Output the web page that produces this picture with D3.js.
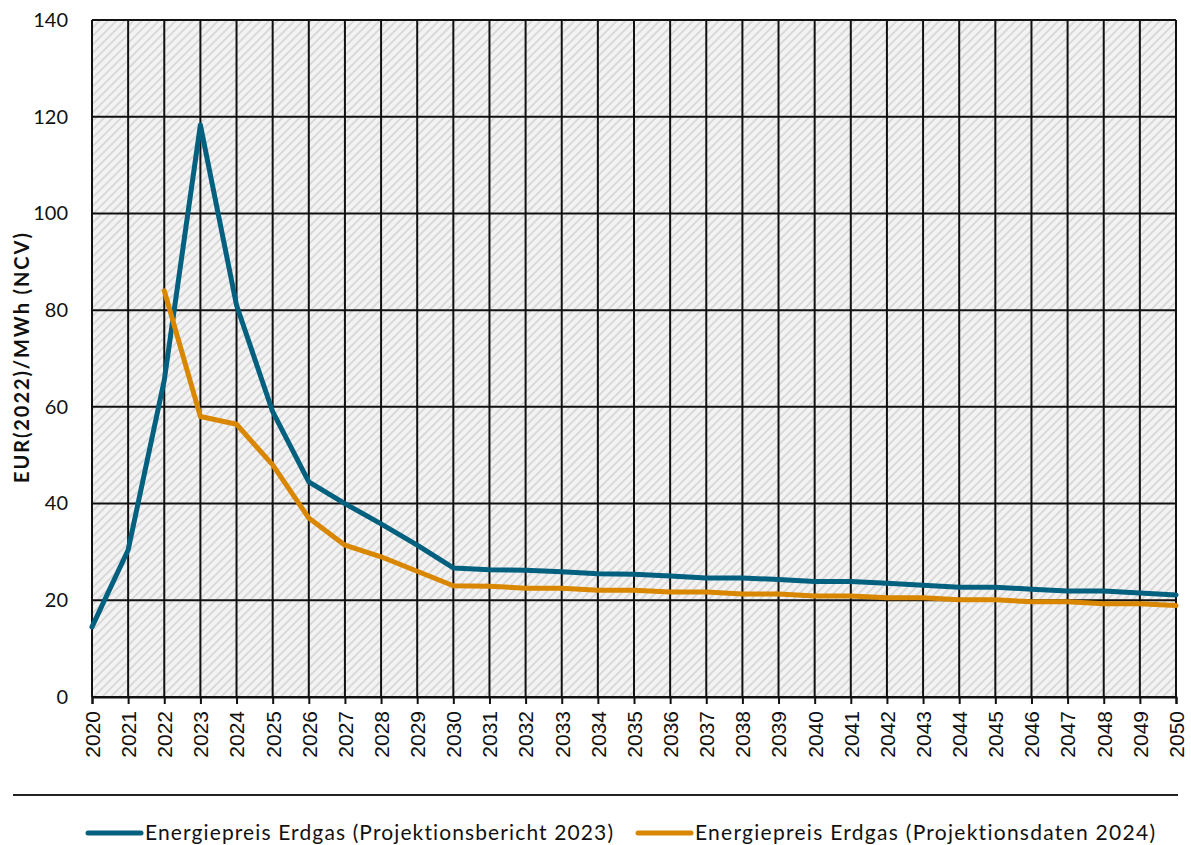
<!DOCTYPE html>
<html>
<head>
<meta charset="utf-8">
<script src="https://cdn.jsdelivr.net/npm/d3@7"></script>
<style>
  html, body { margin: 0; padding: 0; background: #fff; }
  svg { display: block; font-family: Lato, "Open Sans", sans-serif; font-variant-ligatures: none; }
</style>
</head>
<body>
<svg id="chart" width="1191" height="845"></svg>
<script>
// Years on the horizontal axis
const years = d3.range(2020, 2051);

// Gas energy price, EUR(2022)/MWh (NCV)
const bericht2023 = [14.5, 30.4, 65.5, 118.3, 81, 59, 44.5, 40, 35.8, 31.4,
  26.7, 26.3, 26.2, 25.9, 25.5, 25.4, 25.0, 24.6, 24.6, 24.3,
  23.9, 23.9, 23.5, 23.1, 22.7, 22.7, 22.3, 21.9, 21.9, 21.5, 21.1];

const daten2024Years = d3.range(2022, 2051);
const daten2024 = [84, 58, 56.4, 48, 37, 31.4, 29, 26, 23, 22.9,
  22.5, 22.5, 22.1, 22.1, 21.7, 21.7, 21.3, 21.3, 20.9, 20.9,
  20.5, 20.5, 20.1, 20.1, 19.7, 19.7, 19.3, 19.3, 18.9];

const yTicks = [0, 20, 40, 60, 80, 100, 120, 140];

const seriesNames = [
  "Energiepreis Erdgas (Projektionsbericht 2023)",
  "Energiepreis Erdgas (Projektionsdaten 2024)"
];
const seriesColors = ["#03607f", "#d98600"];

const svg = d3.select("#chart");
const plotLeft = 92, plotRight = 1176, plotTop = 20, plotBottom = 697;

const x = d3.scaleLinear().domain([2020, 2050]).range([plotLeft, plotRight]);
const y = d3.scaleLinear().domain([0, 140]).range([plotBottom, plotTop]);

// Hatched plot background
const defs = svg.append("defs");
const pat = defs.append("pattern")
  .attr("id", "hatch")
  .attr("patternUnits", "userSpaceOnUse")
  .attr("width", 6).attr("height", 6)
  .attr("patternTransform", "rotate(45)");
pat.append("rect").attr("width", 6).attr("height", 6).attr("fill", "#f3f3f3");
pat.append("rect").attr("width", 2).attr("height", 6).attr("fill", "#d9d9d9");

svg.append("rect")
  .attr("x", plotLeft).attr("y", plotTop)
  .attr("width", plotRight - plotLeft).attr("height", plotBottom - plotTop)
  .attr("fill", "url(#hatch)");

// Grid lines
const grid = svg.append("g").attr("stroke", "#111").attr("stroke-width", 2);
grid.selectAll("line.v").data(years).join("line").attr("class", "v")
  .attr("x1", d => x(d)).attr("x2", d => x(d))
  .attr("y1", plotTop).attr("y2", plotBottom);
grid.selectAll("line.h").data(yTicks).join("line").attr("class", "h")
  .attr("x1", plotLeft).attr("x2", plotRight)
  .attr("y1", d => y(d)).attr("y2", d => y(d));

// Y axis
const yAxis = svg.append("g")
  .attr("transform", `translate(${plotLeft},0)`)
  .call(d3.axisLeft(y).tickValues(yTicks).tickSize(0).tickPadding(24));
yAxis.select(".domain").remove();
yAxis.selectAll("text").attr("font-size", 20).attr("fill", "#111")
  .attr("font-family", "Lato, sans-serif");

// X axis
const xAxis = svg.append("g")
  .attr("transform", `translate(0,${plotBottom})`)
  .call(d3.axisBottom(x).tickValues(years).tickFormat(d3.format("d")).tickSize(7).tickPadding(6));
xAxis.select(".domain").attr("stroke", "#111").attr("stroke-width", 2);
xAxis.selectAll(".tick line").attr("stroke", "#111").attr("stroke-width", 2);
xAxis.selectAll("text")
  .attr("font-size", 21).attr("fill", "#111")
  .attr("transform", "rotate(-90)")
  .attr("text-anchor", "end")
  .attr("dx", "-14").attr("dy", "0.35em")
  .attr("x", 0).attr("y", 0);

// Y axis title
svg.append("text")
  .attr("transform", `translate(22,358) rotate(-90)`)
  .attr("text-anchor", "middle")
  .attr("dy", "0.35em")
  .attr("font-size", 20).attr("font-weight", "bold").attr("fill", "#111")
  .attr("textLength", 250).attr("lengthAdjust", "spacing")
  .text("EUR(2022)/MWh  (NCV)");

// Series lines
const line = d3.line().x(d => x(d[0])).y(d => y(d[1]));
const series = [
  years.map((yr, i) => [yr, bericht2023[i]]),
  daten2024Years.map((yr, i) => [yr, daten2024[i]])
];
svg.append("g").selectAll("path").data(series).join("path")
  .attr("d", line)
  .attr("fill", "none")
  .attr("stroke", (d, i) => seriesColors[i])
  .attr("stroke-width", 5)
  .attr("stroke-linejoin", "round")
  .attr("stroke-linecap", "round");

// Separator above legend
svg.append("line")
  .attr("x1", 13).attr("x2", 1178).attr("y1", 795).attr("y2", 795)
  .attr("stroke", "#222").attr("stroke-width", 2);

// Legend
const legendX = [88, 638];
const legendTextLen = [468, 460];
const lg = svg.append("g").selectAll("g").data(seriesNames).join("g")
  .attr("transform", (d, i) => `translate(${legendX[i]},833)`);
lg.append("line")
  .attr("x1", 0).attr("x2", 53).attr("y1", 0).attr("y2", 0)
  .attr("stroke", (d, i) => seriesColors[i]).attr("stroke-width", 5)
  .attr("stroke-linecap", "round");
lg.append("text")
  .attr("x", 57).attr("y", 0).attr("dy", "0.35em")
  .attr("font-size", 21).attr("fill", "#111")
  .attr("textLength", (d, i) => legendTextLen[i]).attr("lengthAdjust", "spacing")
  .text(d => d);
</script>
</body>
</html>
